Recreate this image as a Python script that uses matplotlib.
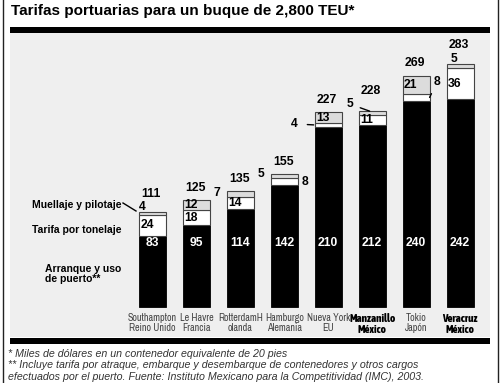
import numpy as np
import matplotlib
matplotlib.use('Agg')
import matplotlib.pyplot as plt
from matplotlib.patches import Rectangle
from matplotlib.lines import Line2D

# datos (miles de dolares)
puertos = ['Southampton\nReino Unido', 'Le Havre\nFrancia', 'RotterdamH\nolanda',
           'Hamburgo\nAlemania', 'Nueva York\nEU', 'Manzanillo\nMéxico',
           'Tokio\nJapón', 'Veracruz\nMéxico']
arranque = [83, 95, 114, 142, 210, 212, 240, 242]
tonelaje = [24, 18, 14, 8, 4, 11, 8, 36]
muellaje = [4, 12, 7, 5, 13, 5, 21, 5]
totales = [111, 125, 135, 155, 227, 228, 269, 283]
mexicanos = [5, 7]

titulo = 'Tarifas portuarias para un buque de 2,800 TEU*'
notas = ['* Miles de dólares en un contenedor equivalente de 20 pies',
         '** Incluye tarifa por atraque, embarque y desembarque de contenedores y otros cargos',
         'efectuados por el puerto. Fuente: Instituto Mexicano para la Competitividad (IMC), 2003.']

plt.rcParams['font.family'] = ['Liberation Sans', 'DejaVu Sans']

W, H = 500, 383
PT = 0.72  # 1 px en puntos (dpi 100)


def fx(x):
    return x / W


def fy(y):
    return 1 - y / H


def plot_figure():
    fig = plt.figure(figsize=(5, 3.83), dpi=100)
    fig.patch.set_facecolor('white')

    # escala: base en y=307 px, 0.859 px por unidad
    k = 0.859
    x0, dx = 152.5, 43.93
    ax = fig.add_axes([fx(10), fy(337), fx(480), (337 - 33) / H])
    ax.set_facecolor('#efefef')
    ax.set_xlim((10 - x0) / dx, (490 - x0) / dx)
    ax.set_ylim(-(337 - 307) / k, (307 - 33) / k)
    for s in ax.spines.values():
        s.set_visible(False)
    ax.set_xticks([])
    ax.set_yticks([])

    x = np.arange(len(puertos))
    w = 27 / dx
    ed = '#444444'
    base2 = np.array(arranque) + np.array(tonelaje)
    ax.bar(x, arranque, w, color='black', edgecolor='black', lw=0.6)
    ax.bar(x, tonelaje, w, bottom=arranque, color='white', edgecolor=ed, lw=0.8)
    ax.bar(x, muellaje, w, bottom=base2, color='#dcdcdc', edgecolor=ed, lw=0.8)

    fs = 8.7
    # negro: etiquetas blancas a altura fija
    for i in x:
        ax.text(i, 74.5, str(arranque[i]), color='white', fontsize=fs,
                fontweight='bold', ha='center', va='center')

    # blanco
    for i in [0, 1, 2, 5, 7]:
        ax.annotate(str(tonelaje[i]), (i - w / 2, arranque[i] + tonelaje[i] / 2),
                    xytext=(1.2 * PT, 0), textcoords='offset points',
                    fontsize=fs, fontweight='bold', ha='left', va='center')
    # Hamburgo, a la derecha
    ax.annotate(str(tonelaje[3]), (3 + w / 2, arranque[3] + tonelaje[3] / 2),
                xytext=(4 * PT, 0), textcoords='offset points',
                fontsize=fs, fontweight='bold', ha='left', va='center')
    # Nueva York, a la izquierda con linea
    ax.annotate(str(tonelaje[4]), (4 - w / 2 - 1 / dx, arranque[4] + tonelaje[4] / 2),
                xytext=(-19.5 * PT, 1 * PT), textcoords='offset points',
                fontsize=fs, fontweight='bold', ha='center', va='center',
                arrowprops=dict(arrowstyle='-', lw=1.0, color='black',
                                shrinkA=5, shrinkB=0))
    # Tokio, a la derecha con linea
    ax.annotate(str(tonelaje[6]), (6 + w / 2, arranque[6] + tonelaje[6] / 2),
                xytext=(7.5 * PT, 15 * PT), textcoords='offset points',
                fontsize=fs, fontweight='bold', ha='center', va='center',
                arrowprops=dict(arrowstyle='-', lw=1.0, color='black',
                                shrinkA=2, shrinkB=0))

    # gris
    for i in [1, 4, 6]:
        ax.annotate(str(muellaje[i]), (i - w / 2, base2[i] + muellaje[i] / 2),
                    xytext=(1.2 * PT, 0), textcoords='offset points',
                    fontsize=fs, fontweight='bold', ha='left', va='center')
    ax.annotate(str(muellaje[0]), (0 - w / 2, totales[0]),
                xytext=(0, 5 * PT), textcoords='offset points',
                fontsize=fs, fontweight='bold', ha='left', va='center')
    ax.annotate(str(muellaje[2]), (2 - w / 2, base2[2] + muellaje[2] / 2),
                xytext=(-7 * PT, 1 * PT), textcoords='offset points',
                fontsize=fs, fontweight='bold', ha='right', va='center')
    ax.annotate(str(muellaje[3]), (3 - w / 2, totales[3]),
                xytext=(-6 * PT, 0), textcoords='offset points',
                fontsize=fs, fontweight='bold', ha='right', va='center')
    ax.annotate(str(muellaje[5]), (5 - w / 2 + 11 / dx, totales[5]),
                xytext=(-19.5 * PT, 7 * PT), textcoords='offset points',
                fontsize=fs, fontweight='bold', ha='center', va='center',
                arrowprops=dict(arrowstyle='-', lw=1.0, color='black',
                                shrinkA=3, shrinkB=0))
    ax.annotate(str(muellaje[7]), (7 - w / 2, totales[7]),
                xytext=(4 * PT, 5 * PT), textcoords='offset points',
                fontsize=fs, fontweight='bold', ha='left', va='center')

    # totales
    sube = [17.6, 12, 12, 12, 12, 20, 13, 19]
    for i in x:
        ax.annotate(str(totales[i]), (i - w / 2, totales[i]),
                    xytext=(2 * PT, sube[i] * PT), textcoords='offset points',
                    fontsize=8.8, fontweight='bold', ha='left', va='center')

    # nombres de puertos
    for i in x:
        if i in mexicanos:
            ax.text(i, -6.5, puertos[i], ha='center', va='top', fontsize=7.9,
                    family=['Asap Condensed', 'Liberation Sans'], fontweight='heavy',
                    color='black', linespacing=1.0)
        else:
            ax.text(i, -6.5, puertos[i], ha='center', va='top', fontsize=7.3,
                    family=['Archivo Narrow', 'Liberation Sans'],
                    color='#444444', linespacing=1.05)

    # etiquetas de la leyenda
    fig.text(fx(32), fy(205), 'Muellaje y pilotaje', fontsize=7.5,
             fontweight='bold', va='center')
    fig.text(fx(32), fy(230), 'Tarifa por tonelaje', fontsize=7.5,
             fontweight='bold', va='center')
    fig.text(fx(45), fy(274.5), 'Arranque y uso\nde puerto**', fontsize=7.5,
             fontweight='bold', va='center', linespacing=1.0)
    fig.add_artist(Line2D([fx(123), fx(136)], [fy(203), fy(211)],
                          color='black', lw=1.0))

    # barras negras, bordes
    fig.add_artist(Rectangle((fx(10), fy(33)), fx(480), 6 / H, color='black', lw=0))
    fig.add_artist(Rectangle((fx(10), fy(344)), fx(480), 6 / H, color='black', lw=0))
    fig.add_artist(Line2D([fx(3), fx(3)], [0, 1], color='#222222', lw=1.0))
    fig.add_artist(Line2D([fx(498), fx(498)], [0, 1], color='#222222', lw=1.0))

    fig.text(fx(11), fy(10.5), titulo, fontsize=11, fontweight='bold', va='center')
    for j, t in enumerate(notas):
        fig.text(fx(8), fy(354 + 11.5 * j), t, fontsize=7.7, style='italic',
                 color='#333333', va='center')

    fig.savefig('out.png', dpi=100)


if __name__ == "__main__":
    plot_figure()
